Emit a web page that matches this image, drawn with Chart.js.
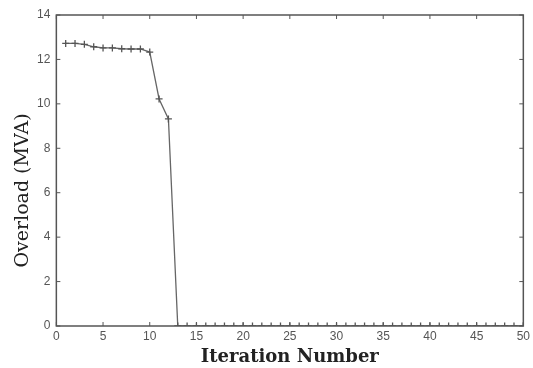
<!DOCTYPE html>
<html>
<head>
<meta charset="utf-8">
<script src="https://cdn.jsdelivr.net/npm/chart.js@4.4.1/dist/chart.umd.min.js"></script>
<style>
  html, body { margin: 0; padding: 0; background: #fff; }
  #wrap { width: 533px; height: 368px; }
</style>
</head>
<body>
<div id="wrap"><canvas id="overload-chart" width="533" height="368"></canvas></div>
<script>
const iterations = [];
for (let i = 1; i <= 50; i++) iterations.push(i);

const overload = [
    12.72, 12.72, 12.68, 12.57, 12.52, 12.52, 12.48, 12.47, 12.47, 12.33,
    10.22, 9.32, 0, 0, 0, 0, 0, 0, 0, 0,
    0, 0, 0, 0, 0, 0, 0, 0, 0, 0,
    0, 0, 0, 0, 0, 0, 0, 0, 0, 0,
    0, 0, 0, 0, 0, 0, 0, 0, 0, 0
];

const xTicks = [0, 5, 10, 15, 20, 25, 30, 35, 40, 45, 50];
const yTicks = [0, 2, 4, 6, 8, 10, 12, 14];
const yTitle = 'Overload (MVA)';

// box around the plot plus inward tick marks, matlab style
const boxTicks = {
    id: 'boxTicks',
    afterDraw(chart) {
        const ctx = chart.ctx;
        const a = chart.chartArea;
        const xs = chart.scales.x;
        const ys = chart.scales.y;
        ctx.save();
        ctx.strokeStyle = '#555';
        ctx.lineWidth = 1.5;
        ctx.strokeRect(a.left, a.top, a.right - a.left, a.bottom - a.top);
        ctx.lineWidth = 1;
        ctx.beginPath();
        xTicks.forEach(v => {
            const px = xs.getPixelForValue(v);
            ctx.moveTo(px, a.bottom); ctx.lineTo(px, a.bottom - 4);
            ctx.moveTo(px, a.top); ctx.lineTo(px, a.top + 4);
        });
        yTicks.forEach(v => {
            const py = ys.getPixelForValue(v);
            ctx.moveTo(a.left, py); ctx.lineTo(a.left + 4, py);
            ctx.moveTo(a.right, py); ctx.lineTo(a.right - 4, py);
        });
        ctx.stroke();

        // y title sits a little below the middle in the original
        ctx.translate(23, (a.top + a.bottom) / 2 + 20);
        ctx.rotate(-Math.PI / 2);
        ctx.fillStyle = '#222';
        ctx.font = '19px "DejaVu Serif"';
        ctx.textAlign = 'center';
        ctx.textBaseline = 'middle';
        ctx.fillText(yTitle, 0, 0);
        ctx.restore();
    }
};

new Chart(document.getElementById('overload-chart').getContext('2d'), {
    type: 'line',
    data: {
        labels: iterations,
        datasets: [{
            data: iterations.map((x, i) => ({ x: x, y: overload[i] })),
            borderColor: '#666',
            borderWidth: 1.3,
            pointStyle: 'cross',
            pointRadius: 3.5,
            pointBorderColor: '#555',
            pointBorderWidth: 1.3,
            fill: false,
            tension: 0
        }]
    },
    options: {
        responsive: false,
        animation: false,
        devicePixelRatio: 1,
        layout: { padding: { left: 31, right: 7, top: 15, bottom: 0 } },
        plugins: { legend: { display: false }, tooltip: { enabled: false } },
        scales: {
            x: {
                type: 'linear',
                min: 0, max: 50,
                afterBuildTicks: s => { s.ticks = xTicks.map(v => ({ value: v })); },
                grid: { drawOnChartArea: false, drawTicks: false },
                border: { display: false },
                ticks: { color: '#555', padding: 3, font: { family: 'Liberation Sans', size: 12 } },
                title: {
                    display: true, text: 'Iteration Number', color: '#222', padding: { top: 0, bottom: 0 },
                    font: { family: 'DejaVu Serif', size: 18, weight: 'bold' }
                }
            },
            y: {
                min: 0, max: 14,
                afterBuildTicks: s => { s.ticks = yTicks.map(v => ({ value: v })); },
                grid: { drawOnChartArea: false, drawTicks: false },
                border: { display: false },
                ticks: { color: '#555', padding: 6, font: { family: 'Liberation Sans', size: 12 } }
            }
        }
    },
    plugins: [boxTicks]
});
</script>
</body>
</html>
